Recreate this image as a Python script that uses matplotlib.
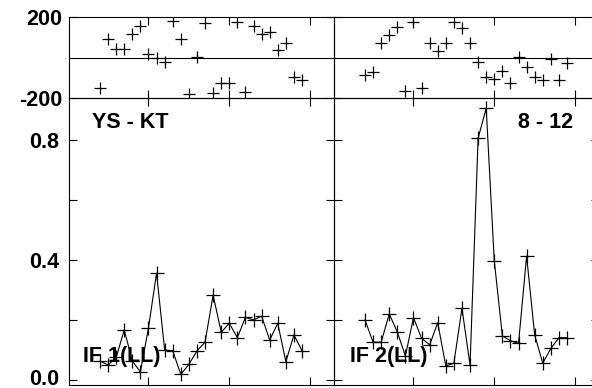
import matplotlib
matplotlib.use("Agg")
import matplotlib.pyplot as plt
import matplotlib.transforms as mtransforms

plt.rcParams['font.family'] = ['Liberation Sans', 'DejaVu Sans']
plt.rcParams['font.weight'] = 'bold'

# time samples (same for both baselines)
time = [4, 5, 6, 7, 8, 9, 10, 11, 12, 13, 14, 15, 16, 17, 18, 19, 20,
        21, 22, 23, 24, 25, 26, 27, 28, 29]

# panel 1: YS - KT, IF 1(LL)
phase_if1 = [-152, 90, 43, 43, 115, 157, 18, -2, -20, 182, 93, -178, 2,
             168, -173, -128, -128, 177, -170, 155, 118, 127, 35, 72, -98, -112]
amp_if1 = [0.063, 0.05, 0.075, 0.167, 0.063, 0.027, 0.174, 0.356, 0.1, 0.097,
           0.019, 0.052, 0.097, 0.126, 0.283, 0.159, 0.189, 0.141, 0.209, 0.2,
           0.213, 0.133, 0.189, 0.061, 0.15, 0.098]

# panel 2: 8 - 12, IF 2(LL)
phase_if2 = [-85, -73, 72, 113, 152, -165, 177, -152, 72, 32, 73, 177, 147,
             73, -20, -95, -107, -68, -128, 2, -45, -98, -110, -7, -110, -28]
amp_if2 = [0.2, 0.126, 0.126, 0.22, 0.16, 0.08, 0.208, 0.139, 0.117, 0.191,
           0.047, 0.056, 0.239, 0.05, 0.806, 0.906, 0.397, 0.147, 0.131, 0.122,
           0.413, 0.15, 0.056, 0.105, 0.141, 0.141]

baseline_labels = ["YS - KT", "8 - 12"]
if_labels = ["IF 1(LL)", "IF 2(LL)"]
phase_ticks = [-200, 200]
phase_ticklabels = ["-200", "200"]
amp_ticks = [0.0, 0.4, 0.8]
amp_ticklabels = ["0.0", "0.4", "0.8"]
amp_minor = [0.2, 0.6]
x_ticks = [10, 20, 30]

W, H = 592, 388
fig = plt.figure(figsize=(W / 100, H / 100), dpi=100)

FS = 15.5
lw_ax = 0.8
tick_len = 5.8


def fx(px):
    return px / W


def fy(py):
    return 1 - py / H


panel_w = 265
lefts = [69, 334]
phases = [phase_if1, phase_if2]
amps = [amp_if1, amp_if2]

for i in range(2):
    x0 = lefts[i]
    axp = fig.add_axes([fx(x0), fy(98), panel_w / W, (98 - 17) / H])
    axa = fig.add_axes([fx(x0), fy(385), panel_w / W, (385 - 98) / H])
    for ax in (axp, axa):
        ax.set_xlim(0.163, 32.96)
        ax.set_xticks(x_ticks)
        ax.tick_params(axis='both', which='both', direction='in',
                       length=tick_len, width=lw_ax, top=True, right=True,
                       labelbottom=False, labelsize=FS, color='black')
        for s in ax.spines.values():
            s.set_linewidth(lw_ax)
            s.set_color('black')
        ax.patch.set_alpha(0)

    axp.set_ylim(-200, 200)
    axp.set_yticks(phase_ticks)
    axp.axhline(0, color='black', lw=lw_ax)
    axp.plot(time, phases[i], ls='none', marker='+', ms=8, mew=0.9,
             color='black')

    axa.set_ylim(-0.0167, 0.94)
    axa.set_yticks(amp_ticks)
    axa.set_yticks(amp_minor, minor=True)
    axa.plot(time, amps[i], color='black', lw=0.8, marker='+', ms=10,
             mew=0.9)

    if i == 0:
        axp.set_yticklabels(phase_ticklabels, fontsize=FS, fontweight='bold')
        axa.set_yticklabels(amp_ticklabels, fontsize=FS, fontweight='bold')
        axp.tick_params(axis='y', pad=5)
        axa.tick_params(axis='y', pad=7)
        # nudge lowest label up slightly so it stays inside the canvas
        lab0 = axa.get_yticklabels()[0]
        lab0.set_transform(lab0.get_transform() +
                           mtransforms.ScaledTranslation(0, 2 / 72,
                                                         fig.dpi_scale_trans))
        axa.text(0.087, 0.913, baseline_labels[i], transform=axa.transAxes,
                 fontsize=FS, fontweight='bold', ha='left', va='center')
        axa.text(0.053, 0.098, if_labels[i], transform=axa.transAxes,
                 fontsize=FS, fontweight='bold', ha='left', va='center')
    else:
        axp.tick_params(axis='y', labelleft=False)
        axa.tick_params(axis='y', labelleft=False)
        axa.text(0.902, 0.913, baseline_labels[i], transform=axa.transAxes,
                 fontsize=FS, fontweight='bold', ha='right', va='center')
        axa.text(0.06, 0.098, if_labels[i], transform=axa.transAxes,
                 fontsize=FS, fontweight='bold', ha='left', va='center')

fig.savefig("out.png", dpi=100)
